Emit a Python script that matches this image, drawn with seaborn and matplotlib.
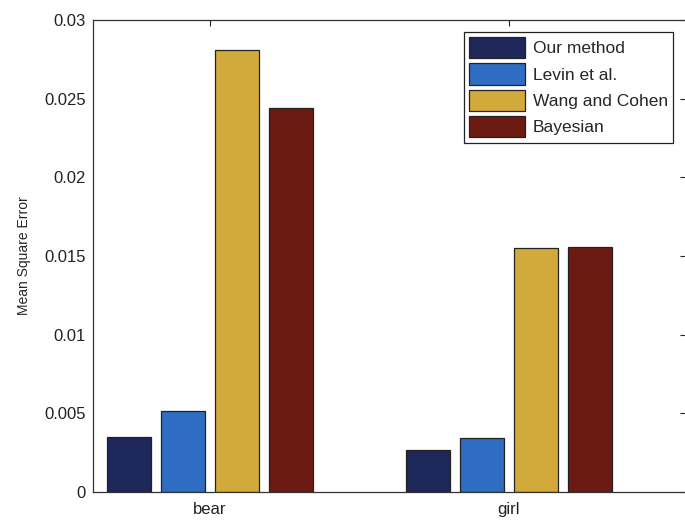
import pandas as pd
import matplotlib
matplotlib.use("Agg")
import matplotlib.pyplot as plt
import seaborn as sns

# data
images = ["bear", "girl"]
methods = ["Our method", "Levin et al.", "Wang and Cohen", "Bayesian"]
our_method = [0.00348, 0.00267]
levin = [0.00515, 0.00345]
wang_cohen = [0.0281, 0.01549]
bayesian = [0.0244, 0.01555]
colors = ["#1d2759", "#2e6dc2", "#d2aa3c", "#6c1b12"]

sns.set_style("white")
plt.rcParams["font.family"] = ["Liberation Sans", "DejaVu Sans"]

rows = []
for i, img in enumerate(images):
    for m, vals in zip(methods, [our_method, levin, wang_cohen, bayesian]):
        rows.append({"image": img, "method": m, "mse": vals[i]})
df = pd.DataFrame(rows)

fig = plt.figure(figsize=(6.85, 5.22), dpi=100)
ax = fig.add_axes([93 / 685, 30 / 522, 593 / 685, 472 / 522])

sns.barplot(data=df, x="image", y="mse", hue="method", hue_order=methods,
            palette=colors, width=0.72, gap=0.18, edgecolor="#222222",
            linewidth=0.9, saturation=1, ax=ax)

ax.set_xlim(-0.391, 1.592)
ax.set_ylim(0, 0.03)
ax.set_yticks([0, 0.005, 0.01, 0.015, 0.02, 0.025, 0.03])
ax.set_yticklabels(["0", "0.005", "0.01", "0.015", "0.02", "0.025", "0.03"])
ax.set_xlabel("")
ax.set_ylabel("Mean Square Error", fontsize=10, labelpad=10)

ax.tick_params(direction="in", length=4, width=0.8, top=True, right=True,
               labelsize=12, colors="#222222", pad=5)
ax.tick_params(axis="x", pad=7)
for s in ax.spines.values():
    s.set_visible(True)
    s.set_color("#333333")
    s.set_linewidth(0.9)

leg = ax.legend(loc="upper right", bbox_to_anchor=(0.978, 0.975),
                borderaxespad=0, fontsize=12.5, fancybox=False, framealpha=1,
                edgecolor="#222222", handlelength=3.2, handleheight=1.5,
                handletextpad=0.45, labelspacing=0.3, borderpad=0.3)
leg.get_frame().set_linewidth(0.9)

fig.savefig("out.png", dpi=100)
